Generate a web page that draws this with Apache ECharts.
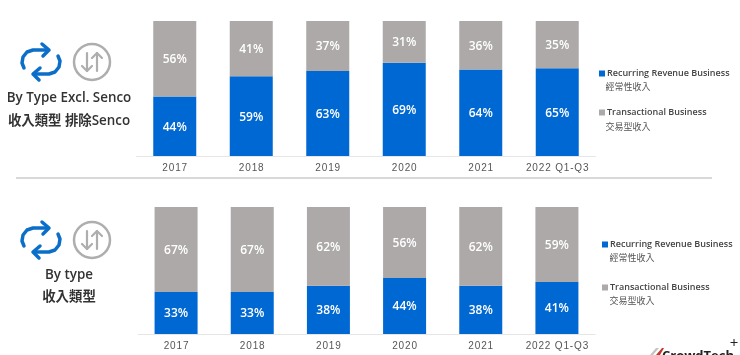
<!DOCTYPE html>
<html>
<head>
<meta charset="utf-8">
<style>
  html, body { margin: 0; padding: 0; background: #fff; }
  #main { width: 740px; height: 355px; }
</style>
<script src="https://cdn.jsdelivr.net/npm/echarts@6/dist/echarts.min.js"></script>
</head>
<body>
<div id="main"></div>
<script>
const categories = ['2017', '2018', '2019', '2020', '2021', '2022 Q1-Q3']
const recurringTop = [44, 59, 63, 69, 64, 65]
const transactionalTop = [56, 41, 37, 31, 36, 35]
const recurringBottom = [33, 33, 38, 44, 38, 41]
const transactionalBottom = [67, 67, 62, 56, 62, 59]

const recurringName = 'Recurring Revenue Business'
const transactionalName = 'Transactional Business'
const blue = '#0068d3'
const grey = '#aca9a8'
const font = '"Open Sans", "Noto Sans CJK TC", sans-serif'

function barSeries(name, data, color, index) {
  return {
    name: name,
    type: 'bar',
    stack: 'total' + index,
    xAxisIndex: index,
    yAxisIndex: index,
    barWidth: 43,
    data: data,
    itemStyle: { color: color },
    label: {
      show: true,
      position: 'inside',
      formatter: '{c}%',
      color: '#fff',
      fontFamily: font,
      fontWeight: 600,
      fontSize: 12,
      offset: [0, 1]
    }
  }
}

function xAxis(index) {
  return {
    type: 'category',
    gridIndex: index,
    data: categories,
    axisTick: { show: false },
    axisLine: { lineStyle: { color: '#e6e6e6', width: 1 } },
    axisLabel: {
      interval: 0,
      color: '#555',
      fontFamily: 'Liberation Sans, sans-serif',
      fontSize: 10,
      margin: 7,
      formatter: v => v.split('').join('\u200a')
    }
  }
}

function yAxis(index) {
  return { type: 'value', gridIndex: index, min: 0, max: 100, show: false }
}

function legend(top, left, gap) {
  return {
    left: left,
    top: top,
    orient: 'vertical',
    itemWidth: 6,
    itemHeight: 6,
    itemGap: gap,
    icon: 'rect',
    selectedMode: false,
    data: [recurringName, transactionalName],
    textStyle: { color: '#444', fontFamily: font, fontWeight: 600, fontSize: 9, padding: [0, 0, 0, -3] }
  }
}

function caption(text, x, y, size, color, weight) {
  return {
    type: 'text',
    x: x,
    y: y,
    silent: true,
    style: {
      text: text,
      fill: color || '#333',
      font: (weight || 600) + ' ' + size + 'px ' + font,
      textAlign: 'center',
      textVerticalAlign: 'middle'
    }
  }
}

// 循环箭头图标 + 上下箭头图标
function icons(x, y) {
  const stroke = { stroke: '#0b6fc9', lineWidth: 3.5, fill: null, lineCap: 'round', lineJoin: 'round' }
  const greyStroke = { stroke: '#aeaeae', lineWidth: 2.5, fill: null, lineCap: 'round', lineJoin: 'round' }
  const thin = Object.assign({}, greyStroke, { lineWidth: 2.2 })
  return {
    type: 'group',
    x: x,
    y: y,
    silent: true,
    children: [
      { type: 'polyline', shape: { points: [[-17, 6], [-19, 1], [-18, -5], [-14, -10], [-8, -12], [7, -12]] }, style: stroke },
      { type: 'polyline', shape: { points: [[1, -18], [8, -12], [2, -6]] }, style: stroke },
      { type: 'polyline', shape: { points: [[17, -6], [19, -1], [18, 5], [14, 10], [8, 12], [-7, 12]] }, style: stroke },
      { type: 'polyline', shape: { points: [[-1, 6], [-8, 12], [-2, 18]] }, style: stroke },
      { type: 'circle', shape: { cx: 51, cy: 0, r: 18 }, style: greyStroke },
      { type: 'polyline', shape: { points: [[46, -9], [46, 9]] }, style: thin },
      { type: 'polyline', shape: { points: [[41, 4], [46, 9], [51, 4]] }, style: thin },
      { type: 'polyline', shape: { points: [[56, -9], [56, 9]] }, style: thin },
      { type: 'polyline', shape: { points: [[51, -4], [56, -9], [61, -4]] }, style: thin }
    ]
  }
}

const chart = echarts.init(document.getElementById('main'))
chart.setOption({
  animation: false,
  backgroundColor: '#fff',
  grid: [
    { left: 136.5, width: 459, top: 21, height: 135 },
    { left: 138, width: 457, top: 207, height: 127 }
  ],
  xAxis: [xAxis(0), xAxis(1)],
  yAxis: [yAxis(0), yAxis(1)],
  legend: [legend(64, 594, 30), legend(235, 597, 34)],
  series: [
    barSeries(recurringName, recurringTop, blue, 0),
    barSeries(transactionalName, transactionalTop, grey, 0),
    barSeries(recurringName, recurringBottom, blue, 1),
    barSeries(transactionalName, transactionalBottom, grey, 1)
  ],
  graphic: [
    icons(41, 62),
    icons(41, 240),
    caption('By Type Excl. Senco', 69, 98, 13.4),
    caption('收入類型 排除Senco', 69, 121, 13.4),
    caption('By type', 69, 275, 13.4),
    caption('收入類型', 69, 297, 13.4),
    caption('經常性收入', 628, 87, 9, '#555', 400),
    caption('交易型收入', 628, 127, 9, '#555', 400),
    caption('經常性收入', 632, 258, 9, '#555', 400),
    caption('交易型收入', 632, 301, 9, '#555', 400),
    caption('CrowdTech', 698, 356, 13, '#222', 700),
    caption('+', 734, 344, 15, '#222', 400),
    { type: 'polygon', silent: true, shape: { points: [[650, 355], [656, 348], [659, 348], [653, 355]] }, style: { fill: '#c4c4c4' } },
    { type: 'polygon', silent: true, shape: { points: [[656, 355], [662, 348], [664, 348], [660, 355]] }, style: { fill: '#c0392b' } },
    { type: 'line', silent: true, shape: { x1: 16, y1: 178, x2: 712, y2: 178 }, style: { stroke: '#cdcdcd', lineWidth: 1.5 } }
  ]
})
</script>
</body>
</html>
